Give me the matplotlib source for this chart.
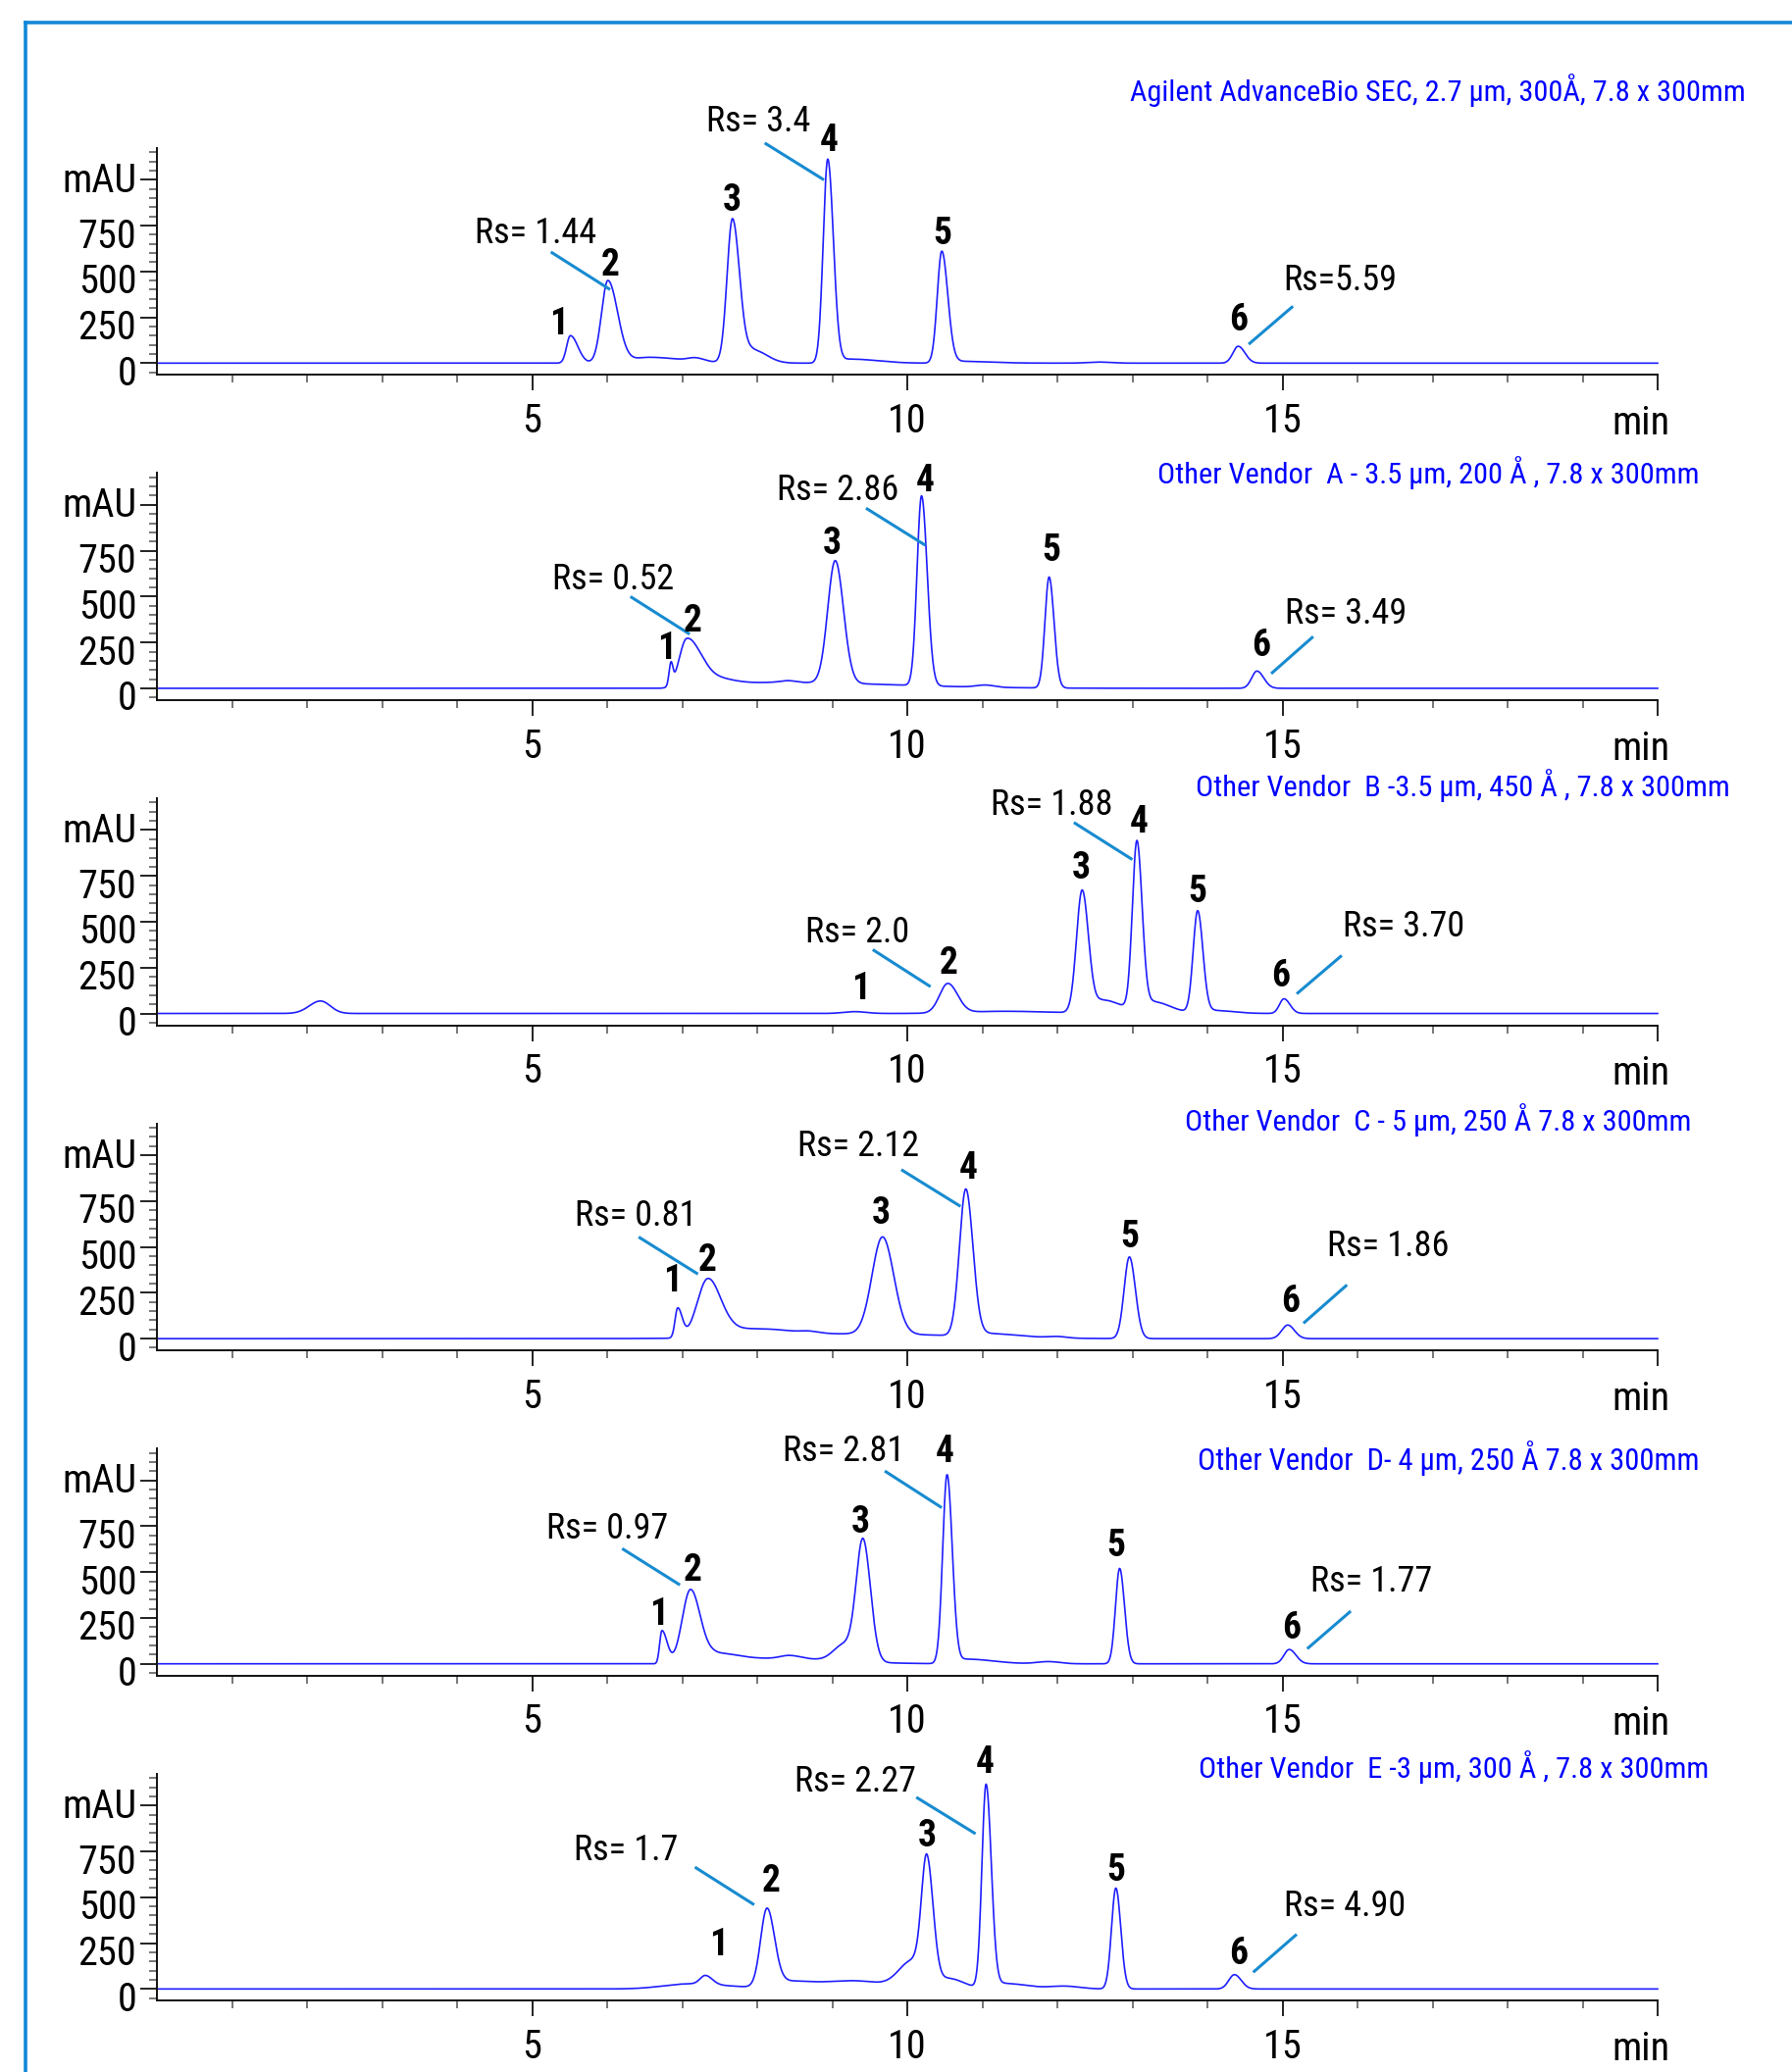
import os
import numpy as np
import matplotlib
matplotlib.use('Agg')
import matplotlib.pyplot as plt
from matplotlib import font_manager
from matplotlib.font_manager import FontProperties
from matplotlib.lines import Line2D
from matplotlib.transforms import ScaledTranslation

# ---------------- font selection (narrow grotesque if available) ----------------
_files = [f.fname for f in font_manager.fontManager.ttflist]


def _pick(prefs):
    for p in prefs:
        for fn in _files:
            if os.path.basename(fn).lower().startswith(p):
                return fn
    return None


REG_FILE = _pick(['liberationsansnarrow-regular', 'robotocondensed-regular',
                  'dejavusanscondensed.ttf', 'notosans-condensed.', 'notosanscondensed-regular',
                  'opensans-condensedregular', 'opensans_condensed-regular'])
BOLD_FILE = _pick(['liberationsansnarrow-bold.', 'robotocondensed-bold.',
                   'dejavusanscondensed-bold.', 'notosans-condensedbold.', 'notosanscondensed-bold.',
                   'opensans-condensedbold', 'opensans_condensed-bold.'])


def fp(size, bold=False):
    f = BOLD_FILE if bold else REG_FILE
    if f:
        return FontProperties(fname=f, size=size)
    return FontProperties(family=['Liberation Sans', 'DejaVu Sans'], size=size,
                          weight='bold' if bold else 'normal')


plt.rcParams['font.family'] = ['Liberation Sans', 'DejaVu Sans']

# ---------------- data ----------------
titles = [
    "Agilent AdvanceBio SEC, 2.7 \u00b5m, 300\u00c5, 7.8 x 300mm",
    "Other Vendor  A - 3.5 \u00b5m, 200 \u00c5 , 7.8 x 300mm",
    "Other Vendor  B -3.5 \u00b5m, 450 \u00c5 , 7.8 x 300mm",
    "Other Vendor  C - 5 \u00b5m, 250 \u00c5 7.8 x 300mm",
    "Other Vendor  D- 4 \u00b5m, 250 \u00c5 7.8 x 300mm",
    "Other Vendor  E -3 \u00b5m, 300 \u00c5 , 7.8 x 300mm",
]
y_ticks = [0, 250, 500, 750, 1000]
y_tick_labels = ['0', '250', '500', '750', 'mAU']
x_ticks = [5, 10, 15, 20]
x_tick_labels = ['5', '10', '15', 'min']

# chromatogram components per column: retention time (min), height (mAU),
# leading / tailing widths (min)
agilent_rt = [5.51, 6.01, 6.55, 7.18, 7.67, 7.95, 8.94, 9.25, 10.46, 10.7, 12.55, 14.41]
agilent_h  = [150, 450, 32, 18, 785, 70, 1110, 22, 610, 10, 6, 92]
agilent_wl = [0.05, 0.085, 0.2, 0.1, 0.072, 0.1, 0.06, 0.15, 0.06, 0.1, 0.15, 0.07]
agilent_wr = [0.10, 0.13, 0.45, 0.12, 0.095, 0.18, 0.075, 0.35, 0.08, 0.4, 0.15, 0.09]

vendA_rt = [6.85, 7.06, 7.35, 8.3, 8.41, 9.04, 10.19, 11.04, 11.89, 14.66]
vendA_h  = [115, 262, 55, 32, 10, 668, 1035, 12, 605, 94]
vendA_wl = [0.025, 0.10, 0.15, 0.5, 0.1, 0.10, 0.06, 0.12, 0.055, 0.07]
vendA_wr = [0.025, 0.17, 0.3, 1.5, 0.1, 0.11, 0.075, 0.12, 0.065, 0.09]

vendB_rt = [2.18, 9.3, 10.54, 11.3, 12.33, 12.6, 12.9, 13.06, 13.3, 13.87, 14.1, 15.02]
vendB_h  = [68, 10, 160, 12, 665, 55, 25, 915, 45, 555, 15, 80]
vendB_wl = [0.15, 0.15, 0.11, 0.5, 0.075, 0.1, 0.3, 0.06, 0.1, 0.06, 0.1, 0.06]
vendB_wr = [0.13, 0.15, 0.13, 0.6, 0.085, 0.18, 0.5, 0.07, 0.2, 0.07, 0.25, 0.08]

vendC_rt = [6.94, 7.34, 7.7, 8.3, 8.69, 9.5, 9.67, 10.78, 11.1, 12.0, 12.96, 15.07]
vendC_h  = [160, 315, 40, 20, 8, 25, 530, 800, 18, 8, 445, 74]
vendC_wl = [0.035, 0.14, 0.2, 0.3, 0.1, 1.2, 0.14, 0.085, 0.15, 0.12, 0.07, 0.08]
vendC_wr = [0.06, 0.17, 0.4, 0.4, 0.12, 1.2, 0.15, 0.095, 0.4, 0.12, 0.08, 0.09]

vendD_rt = [6.73, 7.11, 7.45, 8.3, 8.43, 9.16, 9.41, 10.53, 10.8, 11.88, 12.83, 15.09]
vendD_h  = [180, 400, 50, 28, 18, 90, 655, 1030, 25, 12, 520, 78]
vendD_wl = [0.03, 0.11, 0.15, 0.5, 0.12, 0.14, 0.09, 0.058, 0.1, 0.15, 0.055, 0.07]
vendD_wr = [0.07, 0.13, 0.3, 0.8, 0.15, 0.14, 0.10, 0.07, 0.35, 0.15, 0.065, 0.09]

vendE_rt = [7.1, 7.31, 8.13, 8.4, 9.0, 9.3, 10.07, 10.26, 10.55, 11.05, 11.3, 12.1, 12.78, 14.36]
vendE_h  = [28, 48, 425, 30, 18, 28, 145, 680, 55, 1110, 30, 15, 550, 78]
vendE_wl = [0.35, 0.07, 0.085, 0.15, 0.6, 0.35, 0.18, 0.07, 0.15, 0.055, 0.12, 0.2, 0.058, 0.075]
vendE_wr = [0.5, 0.09, 0.10, 0.3, 0.8, 0.35, 0.12, 0.085, 0.2, 0.07, 0.3, 0.2, 0.065, 0.09]

# peak number labels (position of label, min / mAU)
agilent_lbl_t = [5.36, 6.04, 7.66, 8.96, 10.47, 14.41]
agilent_lbl_y = [214, 535, 889, 1210, 705, 232]
vendA_lbl_t = [6.79, 7.14, 9.00, 10.24, 11.92, 14.71]
vendA_lbl_y = [214, 366, 786, 1130, 750, 232]
vendB_lbl_t = [9.38, 10.55, 12.32, 13.09, 13.87, 14.97]
vendB_lbl_y = [132, 275, 793, 1045, 661, 205]
vendC_lbl_t = [6.87, 7.34, 9.65, 10.81, 12.96, 15.11]
vendC_lbl_y = [311, 427, 684, 930, 552, 202]
vendD_lbl_t = [6.69, 7.14, 9.38, 10.50, 12.78, 15.12]
vendD_lbl_y = [266, 509, 773, 1155, 641, 195]
vendE_lbl_t = [7.49, 8.18, 10.26, 11.04, 12.78, 14.41]
vendE_lbl_y = [239, 587, 833, 1235, 646, 194]

# resolution annotations
agilent_rs = ["Rs= 1.44", "Rs= 3.4", "Rs=5.59"]
vendA_rs = ["Rs= 0.52", "Rs= 2.86", "Rs= 3.49"]
vendB_rs = ["Rs= 2.0", "Rs= 1.88", "Rs= 3.70"]
vendC_rs = ["Rs= 0.81", "Rs= 2.12", "Rs= 1.86"]
vendD_rs = ["Rs= 0.97", "Rs= 2.81", "Rs= 1.77"]
vendE_rs = ["Rs= 1.7", "Rs= 2.27", "Rs= 4.90"]

# ---------------- layout ----------------
agilent_rs_pos = [(5.05, 708), (8.02, 1318), (15.77, 453)]
vendA_rs_pos = [(6.08, 593), (9.08, 1080), (15.84, 407)]
vendB_rs_pos = [(9.33, 439), (11.92, 1136), (16.62, 473)]
vendC_rs_pos = [(6.38, 668), (9.34, 1048), (16.41, 505)]
vendD_rs_pos = [(6.00, 736), (9.15, 1157), (16.18, 448)]
vendE_rs_pos = [(6.25, 756), (9.31, 1128), (15.83, 453)]

agilent_leads = [(5.25, 606, 6.04, 401), (8.10, 1200, 8.89, 999), (14.55, 103, 15.14, 310)]
vendA_leads = [(6.31, 500, 7.10, 295), (9.45, 982, 10.24, 780), (14.85, 80, 15.41, 282)]
vendB_leads = [(9.54, 348, 10.31, 146), (12.22, 1041, 13.00, 839), (15.19, 107, 15.79, 316)]
vendC_leads = [(6.42, 554, 7.21, 352), (9.92, 921, 10.71, 721), (15.28, 84, 15.86, 293)]
vendD_leads = [(6.20, 628, 6.97, 430), (9.70, 1051, 10.46, 851), (15.33, 82, 15.91, 287)]
vendE_leads = [(7.17, 664, 7.96, 459), (10.12, 1045, 10.91, 846), (14.61, 91, 15.19, 298)]

# title: centre x, centre y, target width (px)
title_px = [(1466, 92, 627), (1456, 482, 553), (1491, 801, 545),
            (1466, 1142, 516), (1477, 1487, 512), (1482, 1802, 520)]

panels = [
    (agilent_rt, agilent_h, agilent_wl, agilent_wr, agilent_lbl_t, agilent_lbl_y,
     agilent_rs, agilent_rs_pos, agilent_leads),
    (vendA_rt, vendA_h, vendA_wl, vendA_wr, vendA_lbl_t, vendA_lbl_y,
     vendA_rs, vendA_rs_pos, vendA_leads),
    (vendB_rt, vendB_h, vendB_wl, vendB_wr, vendB_lbl_t, vendB_lbl_y,
     vendB_rs, vendB_rs_pos, vendB_leads),
    (vendC_rt, vendC_h, vendC_wl, vendC_wr, vendC_lbl_t, vendC_lbl_y,
     vendC_rs, vendC_rs_pos, vendC_leads),
    (vendD_rt, vendD_h, vendD_wl, vendD_wr, vendD_lbl_t, vendD_lbl_y,
     vendD_rs, vendD_rs_pos, vendD_leads),
    (vendE_rt, vendE_h, vendE_wl, vendE_wr, vendE_lbl_t, vendE_lbl_y,
     vendE_rs, vendE_rs_pos, vendE_leads),
]

W, H = 1827, 2113
fig = plt.figure(figsize=(W / 100, H / 100), dpi=100)
fig.patch.set_facecolor('white')
renderer = fig.canvas.get_renderer()

TRACE = '#1f1fff'
LEAD = '#178bd0'
FRAME = '#1488d8'

TICK_FS = 29 if REG_FILE else 25
RS_FS = 26 if REG_FILE else 22
NUM_FS = 27 if BOLD_FILE else 23

t = np.linspace(0, 20, 4001)


def trace(rt, h, wl, wr):
    y = np.zeros_like(t)
    for r, a, sl, sr in zip(rt, h, wl, wr):
        s = np.where(t < r, sl, sr)
        y += a * np.exp(-0.5 * ((t - r) / s) ** 2)
    return y


ax_left = 160 / W
ax_w = (1690 - 160) / W
ax_hpx = 231.6
ylo, yhi = -64, 1174

for k, (rt, h, wl, wr, lt, ly, rs, rs_pos, leads) in enumerate(panels):
    bottom_px = 382.3 + 331.6 * k
    ax = fig.add_axes([ax_left, 1 - bottom_px / H, ax_w, ax_hpx / H])
    ax.plot(t, trace(rt, h, wl, wr), color=TRACE, lw=1.2, clip_on=False)
    ax.set_xlim(0, 20)
    ax.set_ylim(ylo, yhi)
    for s in ('top', 'right'):
        ax.spines[s].set_visible(False)
    for s in ('left', 'bottom'):
        ax.spines[s].set_linewidth(1.4)
        ax.spines[s].set_color('#111111')

    ax.set_xticks(x_ticks)
    ax.set_xticklabels(x_tick_labels)
    ax.set_xticks([m for m in range(1, 20) if m % 5], minor=True)
    ax.set_yticks(y_ticks)
    ax.set_yticklabels(y_tick_labels)
    ax.set_yticks([v for v in range(-50, 1175, 50) if v % 250], minor=True)

    ax.tick_params(axis='both', which='major', direction='out', width=1.4,
                   color='#222222')
    ax.tick_params(axis='x', which='major', length=11.5, pad=8.5)
    ax.tick_params(axis='y', which='major', length=12, pad=3)
    ax.tick_params(axis='both', which='minor', direction='out', width=1.4,
                   color='#777777')
    ax.tick_params(axis='x', which='minor', length=5.5)
    ax.tick_params(axis='y', which='minor', length=5.8)

    for lab in ax.get_yticklabels():
        lab.set_fontproperties(fp(TICK_FS))
        dy = 0.03 if lab.get_text() == 'mAU' else -0.07
        lab.set_transform(lab.get_transform() + ScaledTranslation(0, dy, fig.dpi_scale_trans))
    for lab in ax.get_xticklabels():
        lab.set_fontproperties(fp(TICK_FS))
        if lab.get_text() == 'min':
            lab.set_transform(lab.get_transform() + ScaledTranslation(-0.17, -0.02, fig.dpi_scale_trans))

    for i, (xx, yy) in enumerate(zip(lt, ly)):
        ax.text(xx, yy, str(i + 1), fontproperties=fp(NUM_FS, bold=True), ha='center',
                va='center', color='black', clip_on=False)
    for txt, (xx, yy) in zip(rs, rs_pos):
        ax.text(xx, yy, txt, fontproperties=fp(RS_FS), ha='center', va='center',
                color='black', clip_on=False)
    for (x0, y0, x1, y1) in leads:
        ax.plot([x0, x1], [y0, y1], color=LEAD, lw=2.2, solid_capstyle='butt',
                clip_on=False)

    tx, ty, tw = title_px[k]
    ttl = fig.text(tx / W, 1 - ty / H, titles[k], fontproperties=fp(20), color='#0000ff',
                   ha='center', va='center')
    wpx = ttl.get_window_extent(renderer=renderer).width
    ttl.set_fontproperties(fp(20 * tw / wpx))

# blue frame
fig.add_artist(Line2D([26 / W, 26 / W], [0, 1 - 23 / H], color=FRAME, lw=2.6,
                      transform=fig.transFigure))
fig.add_artist(Line2D([26 / W, 1], [1 - 23 / H, 1 - 23 / H], color=FRAME, lw=2.6,
                      transform=fig.transFigure))

fig.savefig('out.png', dpi=100, facecolor='white')
